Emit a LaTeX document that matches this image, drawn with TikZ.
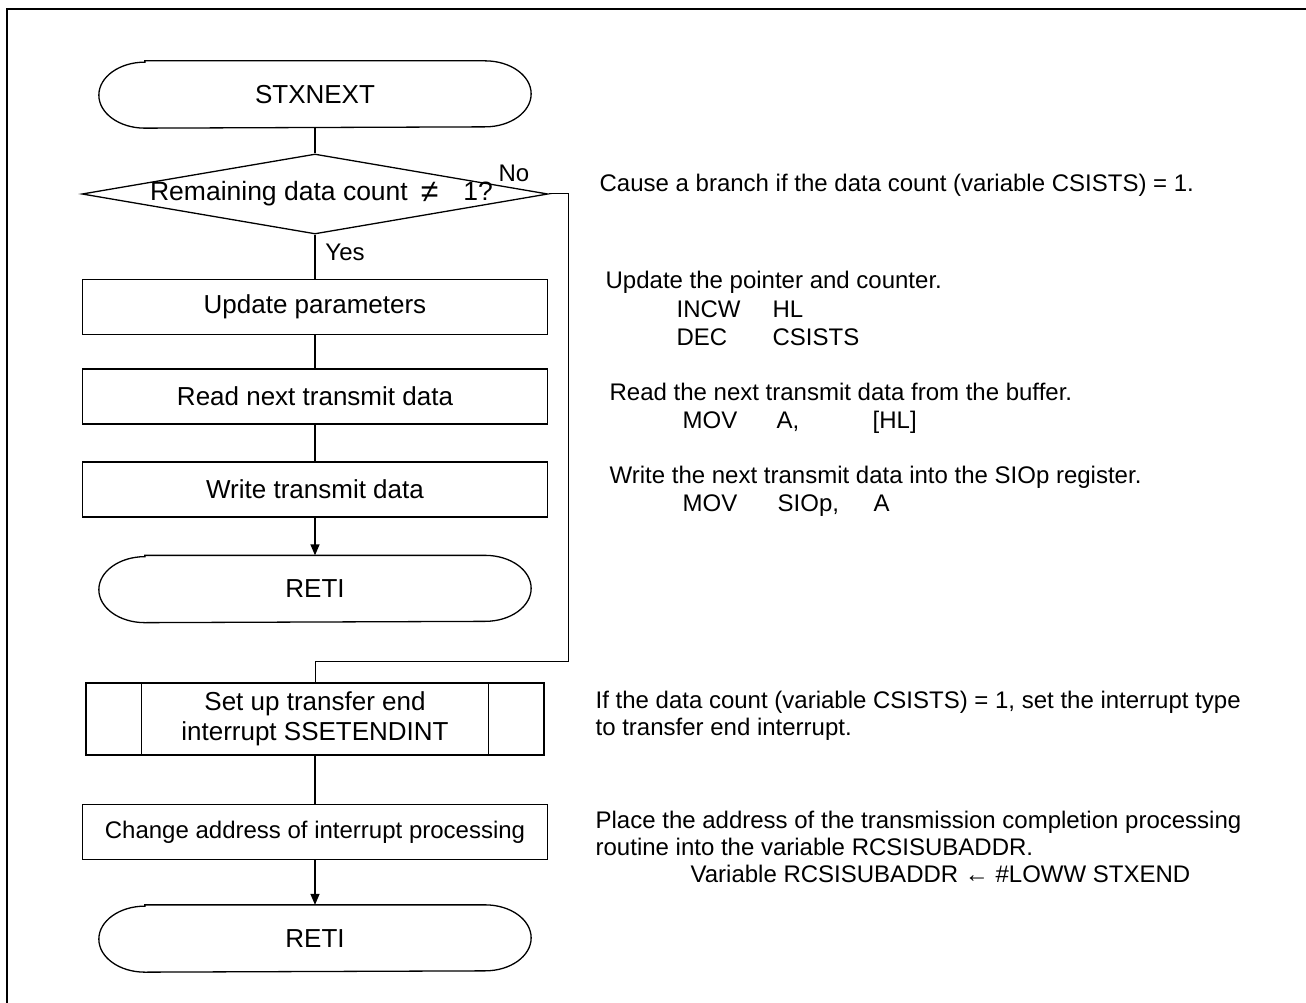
\documentclass[tikz,border=0pt]{standalone}
\usepackage{fontspec}
\setmainfont{Liberation Sans}
\usetikzlibrary{shapes.geometric,arrows.meta}

\newcommand{\boxfont}{\fontsize{26}{30}\selectfont}
\newcommand{\notefont}{\fontsize{24}{28}\selectfont}
% outline of a start/end node: flat top and bottom, elliptic ends
\newcommand{\termline}[1]{%
  \draw ([xshift=46pt]#1.north west) -- ([xshift=-46pt]#1.north east)
    arc[start angle=90,end angle=-90,x radius=46pt,y radius=33pt]
    -- ([xshift=46pt]#1.south west)
    arc[start angle=270,end angle=90,x radius=46pt,y radius=33pt] -- cycle;}

\tikzset{
  term/.style={minimum width=431pt,minimum height=66pt,inner sep=0pt,font=\boxfont},
  proc/.style={draw,minimum width=465pt,minimum height=55pt,inner sep=0pt,font=\boxfont},
  decision/.style={draw,diamond,minimum width=466pt,minimum height=80pt,inner sep=0pt,
    font=\fontsize{26.5}{30}\selectfont},
  note/.style={anchor=base west,inner sep=0pt,font=\notefont},
}

\begin{document}
\begin{tikzpicture}[x=1pt,y=-1pt,line width=1.3pt,>={Triangle[length=11pt,width=9pt]}]
  \useasboundingbox (0,0) rectangle (1306,1003);
  \draw[line width=2.5pt] (7,1003) -- (7,9) -- (1306,9);

  % flow
  \node[term] (start) at (315,94.5) {STXNEXT};
  \termline{start}
  \node[decision] (dec) at (315,194) {\makebox[0pt]{\hspace*{13pt}Remaining data count\hspace{13pt}\raisebox{-2pt}{\fontsize{32}{30}\selectfont ≠}\hspace{25pt}1?}};
  \node[proc] (upd) at (315,307) {Update parameters};
  \node[proc] (rd) at (315,396.5) {Read next transmit data};
  \node[proc] (wr) at (315,489.5) {Write transmit data};
  \node[term] (reti) at (315,589) {RETI};
  \termline{reti}
  \node[proc,minimum width=458pt,minimum height=72pt,align=center] (sub) at (315,719)
    {Set up transfer end\\interrupt SSETENDINT};
  \draw ([xshift=56pt]sub.north west) -- ([xshift=56pt]sub.south west);
  \draw ([xshift=-56pt]sub.north east) -- ([xshift=-56pt]sub.south east);
  \node[proc,font=\notefont] (chg) at (315,832) {Change address of interrupt processing};
  \node[term] (reti2) at (315,938.5) {RETI};
  \termline{reti2}

  \node[font=\notefont] (yes) at (345,252) {Yes};
  \node[font=\notefont] (no) at (514,173) {No};
  \coordinate (nob) at (568,661);

  \draw (start) -- (dec);
  \draw (dec) -- (upd);
  \draw (upd) -- (rd);
  \draw (rd) -- (wr);
  \draw[->] (wr) -- (reti);
  \draw[line width=1pt] (dec.east) -| (nob) -| (sub.north);
  \draw (sub) -- (chg);
  \draw[->] (chg) -- (reti2);

  % comments
  \node[note] (n1) at (599,192) {Cause a branch if the data count (variable CSISTS) = 1.};
  \node[note] (n2) at (605,288) {Update the pointer and counter.};
  \node[note] (n2a) at (676,317) {INCW};
  \node[note] (n2b) at (772,317) {HL};
  \node[note] (n2c) at (676,345) {DEC};
  \node[note] (n2d) at (772,345) {CSISTS};
  \node[note] (n3) at (609,400) {Read the next transmit data from the buffer.};
  \node[note] (n3a) at (682,428) {MOV};
  \node[note] (n3b) at (776,428) {A,};
  \node[note] (n3c) at (872,428) {[HL]};
  \node[note] (n4) at (609,483) {Write the next transmit data into the SIOp register.};
  \node[note] (n4a) at (682,511) {MOV};
  \node[note] (n4b) at (777,511) {SIOp,};
  \node[note] (n4c) at (873,511) {A};
  \node[note] (n5) at (595,708) {If the data count (variable CSISTS) = 1, set the interrupt type};
  \node[note] (n5a) at (595,735) {to transfer end interrupt.};
  \node[note] (n6) at (595,828) {Place the address of the transmission completion processing};
  \node[note] (n6a) at (595,855) {routine into the variable RCSISUBADDR.};
  \node[note] (n6b) at (690,882) {Variable RCSISUBADDR ← \#LOWW STXEND};
\end{tikzpicture}
\end{document}
